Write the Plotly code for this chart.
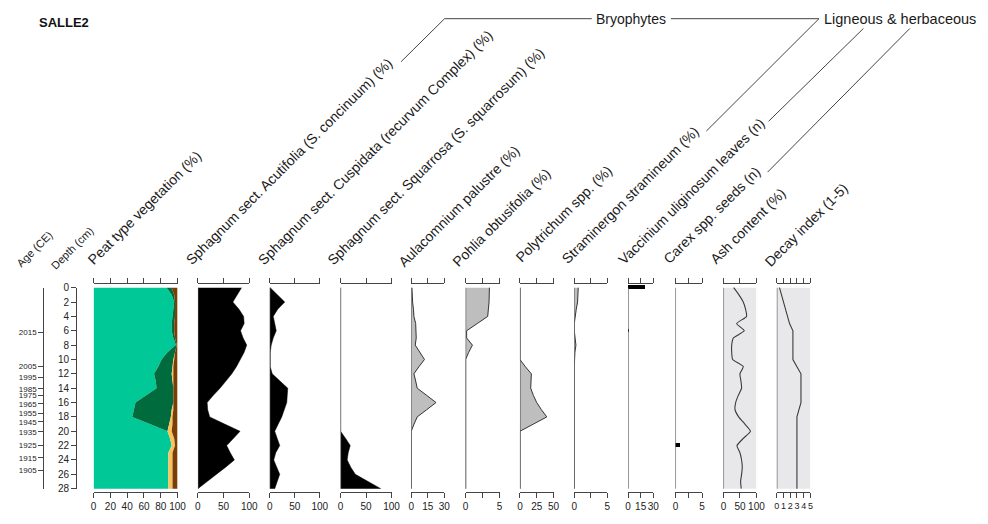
import plotly.graph_objects as go

W, H = 988, 524
FONT = "Arial, 'Liberation Sans', Helvetica, sans-serif"


def px(x):
    return x / W


def py(y):
    return 1 - y / H


# ---------------- data ----------------
depth = list(range(29))  # cm

# Peat type vegetation (%), stacked left to right
peat_sphagnum = [87, 93, 96, 95, 94, 93, 93, 95, 98, 88, 81, 77, 72, 74, 75, 62, 50, 48, 46, 67, 88, 91, 93, 89, 89, 89, 89, 89, 89]
peat_bryales = [6, 3, 1, 2, 3, 3, 3, 2, 1, 9, 14, 17, 21, 20, 20, 33, 45, 45, 46, 23, 0, 0, 0, 0, 0, 0, 0, 0, 0]
peat_herbaceous = [0, 0, 0, 0, 0, 0, 0, 0, 0, 0, 1, 1, 2, 1, 0, 0, 0, 2, 2, 4, 5, 5, 4, 5, 5, 5, 5, 5, 5]
peat_ligneous = [7, 4, 3, 3, 3, 4, 4, 3, 1, 3, 4, 5, 5, 5, 5, 5, 5, 5, 6, 6, 7, 4, 3, 6, 6, 6, 6, 6, 6]

acutifolia = [85, 76, 68, 80, 89, 90, 83, 88, 95, 90, 83, 75, 66, 55, 43, 30, 18, 19, 23, 52, 82, 69, 56, 63, 71, 54, 37, 18, 0]
cuspidata = [1, 15, 30, 16, 7, 10, 13, 7, 3, 1, 1, 1, 5, 20, 36, 35, 34, 29, 24, 17, 10, 15, 20, 12, 8, 14, 20, 15, 10]
squarrosa = [0, 0, 0, 0, 0, 0, 0, 0, 0, 0, 0, 0, 0, 0, 0, 0, 0, 0, 0, 0, 0, 10, 19, 15, 13, 20, 29, 54, 79]
aulacomnium = [0.6, 0.8, 1.2, 2, 2.4, 4, 4.5, 4.5, 3.6, 8, 12, 7, 2.4, 4, 5.4, 14, 22.5, 14, 5.4, 2.5, 0, 0, 0, 0, 0, 0, 0, 0, 0]
pohlia = [3.5, 3.5, 3.45, 3.35, 3.25, 1.7, 0.15, 0.15, 1.0, 0.45, 0, 0, 0, 0, 0, 0, 0, 0, 0, 0, 0, 0, 0, 0, 0, 0, 0, 0, 0]
polytrichum = [0, 0, 0, 0, 0, 0, 0, 0, 0, 0, 0, 8, 17, 16.5, 16, 20, 25, 32, 40, 20, 0, 0, 0, 0, 0, 0, 0, 0, 0]
straminergon = [0.6, 0.55, 0.5, 0.3, 0.1, 0, 0, 0.1, 0.25, 0.1, 0, 0, 0, 0, 0, 0, 0, 0, 0, 0, 0, 0, 0, 0, 0, 0, 0, 0, 0]
vaccinium_depth = [0, 6]
vaccinium_leaves = [20, 1]
carex_depth = [22]
carex_seeds = [1]
ash = [31, 47, 60, 67, 70, 40, 63, 30, 25, 25, 28, 60, 50, 53, 55, 45, 37, 35, 46, 65, 82, 60, 41, 50, 55, 57, 55, 52, 54]
decay = [0.4, 0.7, 1.0, 1.3, 1.5, 1.9, 2.4, 2.4, 2.4, 2.4, 2.4, 3.0, 3.6, 3.6, 3.6, 3.6, 3.6, 3.3, 3.0, 3.0, 3.0, 3.0, 3.0, 3.0, 3.0, 3.0, 3.0, 3.0, 3.0]

depth_ticks = list(range(0, 29, 2))
age_depth = [6.2, 11.0, 12.5, 14.1, 15.0, 16.2, 17.5, 18.7, 20.1, 22.0, 23.7, 25.4]
age_labels = ["2015", "2005", "1995", "1985", "1975", "1965", "1955", "1945", "1935", "1925", "1915", "1905"]

panel_labels = [
    "Peat type vegetation (%)",
    "Sphagnum sect. Acutifolia (S. concinuum) (%)",
    "Sphagnum sect. Cuspidata (recurvum Complex) (%)",
    "Sphagnum sect. Squarrosa (S. squarrosum) (%)",
    "Aulacomnium palustre (%)",
    "Pohlia obtusifolia (%)",
    "Polytrichum spp. (%)",
    "Straminergon stramineum (%)",
    "Vaccinium uliginosum leaves (n)",
    "Carex spp. seeds (n)",
    "Ash content (%)",
    "Decay index (1-5)",
]
panel_max = [100, 100, 100, 100, 30, 5, 50, 5, 30, 5, 100, 5]
panel_tickvals = [[0, 20, 40, 60, 80, 100], [0, 50, 100], [0, 50, 100], [0, 50, 100], [0, 15, 30],
                  [0, 2.5, 5], [0, 25, 50], [0, 2.5, 5], [0, 15, 30], [0, 2.5, 5], [0, 50, 100],
                  [0, 1, 2, 3, 4, 5]]
panel_ticktext = [["0", "20", "40", "60", "80", "100"], ["0", "50", "100"], ["0", "50", "100"],
                  ["0", "50", "100"], ["0", "15", "30"], ["0", "", "5"], ["0", "25", "50"],
                  ["0", "", "5"], ["0", "15", "30"], ["0", "", "5"], ["0", "50", "100"],
                  ["0", "1", "2", "3", "4", "5"]]

# ---------------- layout geometry (pixels) ----------------
panel_px = [(91.7, 176.7), (197.3, 249.3), (270, 320.7), (341.7, 393.3), (413.3, 446.7),
            (468.3, 502.7), (523.3, 557.3), (578.3, 611.7), (632.7, 658.3), (680.7, 707.7),
            (729.3, 762.7), (783.3, 817.3)]
label_start = [(90, 268), (190, 268), (262, 268), (333, 268), (405, 270), (460, 270), (523, 265),
               (570, 267), (627, 267), (673, 267), (720, 267), (775, 270)]
TOP, BOT = 288.3, 494.0
PPC = (BOT - TOP) / 28.0
AX_TOP, AX_BOT = 285.0, 497.7
yr_lo = 28 + (AX_BOT - BOT) / PPC
yr_hi = -(TOP - AX_TOP) / PPC

fig = go.Figure()


def ax(i):
    return "x" if i == 0 else "x%d" % (i + 1)


# Peat stacked
peat_series = [peat_sphagnum, peat_bryales, peat_herbaceous, peat_ligneous]
peat_colors = ["#00C896", "#006B3C", "#F7C35F", "#7A3D05"]
cum = [0] * len(depth)
for k, (ser, col) in enumerate(zip(peat_series, peat_colors)):
    cum = [c + v for c, v in zip(cum, ser)]
    fig.add_trace(go.Scatter(x=list(cum), y=depth, xaxis="x", yaxis="y", mode="lines",
                             line=dict(width=0, color=col), fill="tozerox" if k == 0 else "tonextx",
                             fillcolor=col, hoverinfo="skip", showlegend=False))

for i, ser in [(1, acutifolia), (2, cuspidata), (3, squarrosa)]:
    fig.add_trace(go.Scatter(x=ser, y=depth, xaxis=ax(i), yaxis="y", mode="lines",
                             line=dict(width=0.5, color="black"), fill="tozerox",
                             fillcolor="black", hoverinfo="skip", showlegend=False))

for i, ser in [(4, aulacomnium), (5, pohlia), (6, polytrichum), (7, straminergon)]:
    fig.add_trace(go.Scatter(x=ser, y=depth, xaxis=ax(i), yaxis="y", mode="lines",
                             line=dict(width=1, color="#333333"), fill="tozerox",
                             fillcolor="#BEBEBE", hoverinfo="skip", showlegend=False))

fig.add_trace(go.Bar(x=vaccinium_leaves, y=vaccinium_depth, orientation="h", width=0.5,
                     marker=dict(color="black", line=dict(width=0)), xaxis=ax(8), yaxis="y",
                     hoverinfo="skip", showlegend=False))
fig.add_trace(go.Bar(x=carex_seeds, y=carex_depth, orientation="h", width=0.5,
                     marker=dict(color="black", line=dict(width=0)), xaxis=ax(9), yaxis="y",
                     hoverinfo="skip", showlegend=False))

fig.add_trace(go.Scatter(x=ash, y=depth, xaxis=ax(10), yaxis="y", mode="lines",
                         line=dict(width=1.1, color="#3a3a3a", shape="spline", smoothing=0.5),
                         hoverinfo="skip", showlegend=False))
fig.add_trace(go.Scatter(x=decay, y=depth, xaxis=ax(11), yaxis="y", mode="lines",
                         line=dict(width=1.1, color="#3a3a3a"), hoverinfo="skip",
                         showlegend=False))

# helper traces so the depth and age axes are drawn
for yname in ["y2", "y3"]:
    fig.add_trace(go.Scatter(x=[0], y=[0], xaxis="x", yaxis=yname, mode="markers",
                             marker=dict(opacity=0), hoverinfo="skip", showlegend=False))

layout = dict(
    width=W, height=H, margin=dict(l=0, r=0, t=0, b=0),
    paper_bgcolor="white", plot_bgcolor="rgba(0,0,0,0)", showlegend=False,
    font=dict(family=FONT, color="#222222"),
    bargap=0,
    yaxis=dict(domain=[py(AX_BOT), py(AX_TOP)], range=[yr_lo, yr_hi], visible=False, fixedrange=True),
    yaxis2=dict(domain=[py(BOT), py(TOP)], range=[28, 0], anchor="free", position=px(74), side="left",
                showline=True, linecolor="#444", linewidth=1, ticks="outside", ticklen=5, tickcolor="#444",
                tickvals=depth_ticks, tickfont=dict(size=10, color="#222"), showgrid=False, zeroline=False,
                fixedrange=True),
    yaxis3=dict(domain=[py(BOT), py(TOP)], range=[28, 0], anchor="free", position=px(40.7), side="left",
                showline=True, linecolor="#444", linewidth=1, ticks="outside", ticklen=5, tickcolor="#444",
                tickvals=age_depth, ticktext=age_labels, tickfont=dict(size=8, color="#222"),
                showgrid=False, zeroline=False, fixedrange=True),
)
for i, (a, b) in enumerate(panel_px):
    key = "xaxis" if i == 0 else "xaxis%d" % (i + 1)
    layout[key] = dict(domain=[px(a), px(b)], range=[0, panel_max[i]], anchor="y", showline=True,
                       linecolor="#444", linewidth=1, mirror="ticks", ticks="outside", ticklen=5,
                       tickcolor="#444", tickvals=panel_tickvals[i], ticktext=panel_ticktext[i],
                       tickangle=0,
                       tickfont=dict(size=10 if i != 11 else 9, color="#222"), showgrid=False,
                       zeroline=False, fixedrange=True)
fig.update_layout(**layout)

shapes = []
for i in range(1, 12):
    shapes.append(dict(type="line", xref=ax(i), yref="y", x0=0, x1=0, y0=0, y1=28,
                       line=dict(color="#555", width=1.2), layer="above"))
for i in (10, 11):
    shapes.append(dict(type="rect", xref=ax(i), yref="y", x0=0, x1=panel_max[i], y0=0, y1=28,
                       fillcolor="#E8E8EA", line=dict(width=0), layer="below"))

header_lines = [((403, 57), (447, 13)), ((447, 13), (596, 13)), ((676, 13), (826, 13)),
                ((712, 128), (826, 13)), ((775, 118), (871, 23)), ((774, 170), (918, 23))]
for (x0, y0), (x1, y1) in header_lines:
    shapes.append(dict(type="line", xref="paper", yref="paper", x0=px(x0), y0=py(y0), x1=px(x1), y1=py(y1),
                       line=dict(color="#444", width=1)))
fig.update_layout(shapes=shapes)

annotations = []


def rot_label(text, sx, sy, f):
    h = 1.2 * f + 2
    d = 0.707 * (0.22 * f + 1)
    blx, bly = sx + d, sy + d
    return dict(text=text, x=px(blx - 0.707 * h), y=py(bly), xref="paper", yref="paper",
                xanchor="left", yanchor="bottom", textangle=-45, showarrow=False,
                font=dict(size=f, color="#1a1a1a", family=FONT))


annotations.append(rot_label("Age (CE)", 17, 270, 11))
annotations.append(rot_label("Depth (cm)", 52, 272, 11))
for text, (sx, sy) in zip(panel_labels, label_start):
    annotations.append(rot_label(text, sx, sy, 14))

annotations.append(dict(text="<b>SALLE2</b>", x=px(34), y=py(17), xref="paper", yref="paper",
                        xanchor="left", yanchor="middle", showarrow=False,
                        font=dict(size=13, color="#111", family=FONT)))
annotations.append(dict(text="Bryophytes", x=px(636), y=py(13), xref="paper", yref="paper",
                        xanchor="center", yanchor="middle", showarrow=False,
                        font=dict(size=14, color="#1a1a1a", family=FONT)))
annotations.append(dict(text="Ligneous & herbaceous", x=px(829), y=py(13), xref="paper", yref="paper",
                        xanchor="left", yanchor="middle", showarrow=False,
                        font=dict(size=14.5, color="#1a1a1a", family=FONT)))
fig.update_layout(annotations=annotations)

fig.write_html("out.html")
